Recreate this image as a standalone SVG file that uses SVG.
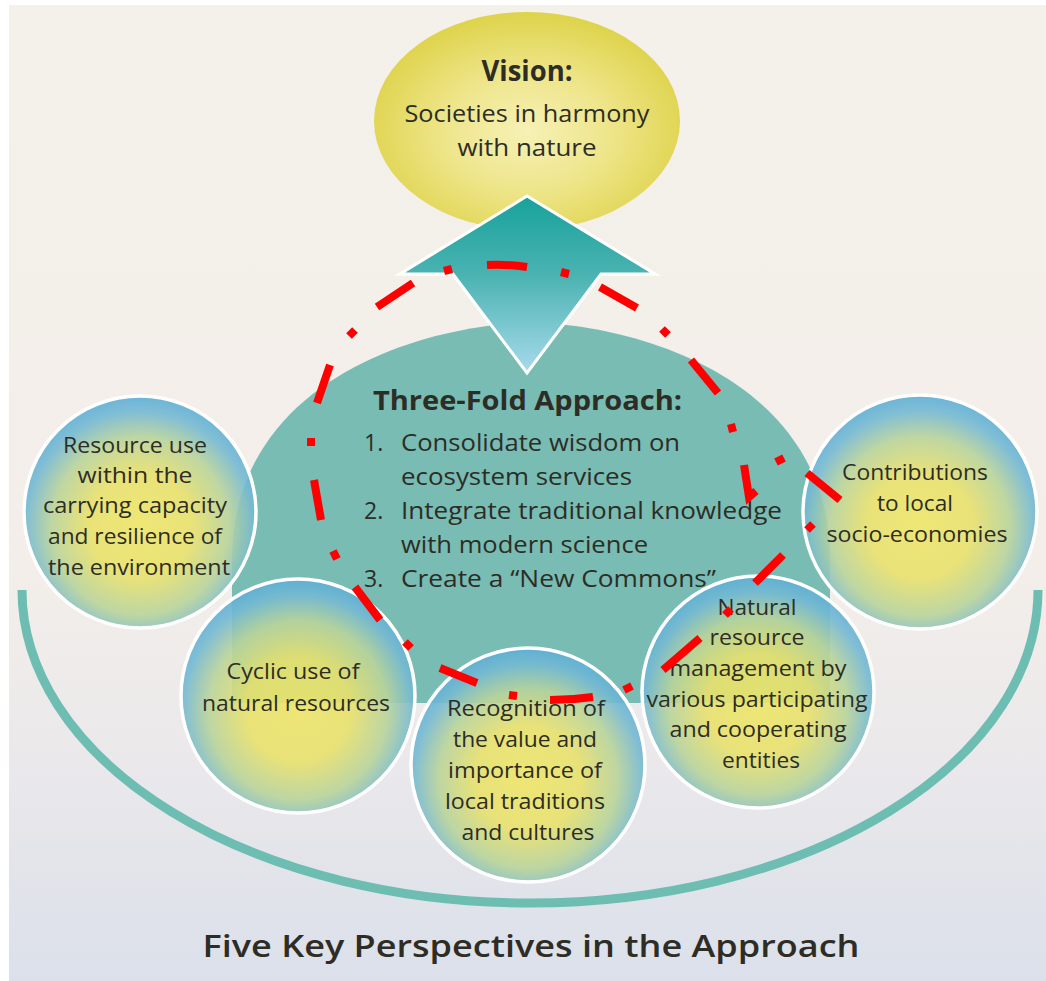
<svg xmlns="http://www.w3.org/2000/svg" width="1046" height="981" viewBox="0 0 1046 981">
<defs>
  <linearGradient id="bgGrad" x1="0" y1="0" x2="0" y2="1">
    <stop offset="0" stop-color="#f4f0ea"/>
    <stop offset="0.58" stop-color="#f3eee9"/>
    <stop offset="0.78" stop-color="#eae8eb"/>
    <stop offset="1" stop-color="#dbe0ea"/>
  </linearGradient>
  <radialGradient id="visionGrad" cx="50%" cy="55%" r="55%">
    <stop offset="0" stop-color="#f6f1b6"/>
    <stop offset="0.5" stop-color="#eee58a"/>
    <stop offset="1" stop-color="#ded34a"/>
  </radialGradient>
  <linearGradient id="arrowGrad" x1="0" y1="0" x2="0" y2="1">
    <stop offset="0" stop-color="#17a29b"/>
    <stop offset="0.45" stop-color="#4bb3b2"/>
    <stop offset="1" stop-color="#a8daeb"/>
  </linearGradient>
  <radialGradient id="circleGrad" cx="50%" cy="56%" r="56%">
    <stop offset="0" stop-color="#eee668"/>
    <stop offset="0.4" stop-color="#e8e16c"/>
    <stop offset="0.68" stop-color="#b9d49a"/>
    <stop offset="0.88" stop-color="#74b9d3"/>
    <stop offset="1" stop-color="#5caed6"/>
  </radialGradient>
  <style>
    .txt { font-family: "Open Sans", "Liberation Sans", sans-serif; fill: #2d2d25; }
    .mid { text-anchor: middle; }
    .ctext { font-size: 21px; text-anchor: middle; }
    .body { font-size: 23px; }
    .circle { fill: url(#circleGrad); fill-opacity: 0.9; stroke: #ffffff; stroke-width: 3.5; }
    .red { fill: none; stroke: #ff0000; stroke-width: 8; stroke-linecap: butt; stroke-linejoin: miter; }
  </style>
</defs>

<rect x="0" y="0" width="1046" height="981" fill="#ffffff"/>
<rect x="9" y="5" width="1037" height="976" fill="url(#bgGrad)"/>

<g id="connectors">
  <path id="base-arc" d="M22,590 A508,313 0 0 0 1038,590" fill="none" stroke="#6dbdb2" stroke-width="9"/>
  <path id="up-arrow" d="M527,196 L655,274 L601,274 L527,373 L453,274 L400,274 Z" fill="url(#arrowGrad)" stroke="#ffffff" stroke-width="3" stroke-linejoin="miter"/>
</g>

<g id="three-fold">
  <path d="M232,703 L232,560 C232,372 440,323 531,323 C622,323 830,372 830,560 L830,703 Z" fill="#78bcb4"/>
  <text class="txt mid" x="527.5" y="410" font-size="26" font-weight="bold" textLength="309" lengthAdjust="spacingAndGlyphs">Three-Fold Approach:</text>
  <text class="txt body" x="364" y="451" font-size="21">1.</text>
  <text class="txt body" x="401" y="451" textLength="279" lengthAdjust="spacingAndGlyphs">Consolidate wisdom on</text>
  <text class="txt body" x="401" y="485" textLength="231" lengthAdjust="spacingAndGlyphs">ecosystem services</text>
  <text class="txt body" x="364" y="519" font-size="21">2.</text>
  <text class="txt body" x="401" y="519" textLength="381" lengthAdjust="spacingAndGlyphs">Integrate traditional knowledge</text>
  <text class="txt body" x="401" y="553" textLength="247" lengthAdjust="spacingAndGlyphs">with modern science</text>
  <text class="txt body" x="364" y="587" font-size="21">3.</text>
  <text class="txt body" x="401" y="587" textLength="315" lengthAdjust="spacingAndGlyphs">Create a “New Commons”</text>
</g>

<g id="vision">
  <ellipse cx="527" cy="121" rx="153" ry="109" fill="url(#visionGrad)"/>
  <text class="txt mid" x="527" y="81" font-size="28" font-weight="bold" textLength="91" lengthAdjust="spacingAndGlyphs">Vision:</text>
  <text class="txt mid" x="527" y="122" font-size="24" textLength="245" lengthAdjust="spacingAndGlyphs">Societies in harmony</text>
  <text class="txt mid" x="527" y="156" font-size="24" textLength="139" lengthAdjust="spacingAndGlyphs">with nature</text>
</g>

<use href="#up-arrow"/>

<g id="resource-use">
  <circle class="circle" cx="140" cy="512" r="116"/>
  <text class="txt ctext" x="135" y="453" textLength="144" lengthAdjust="spacingAndGlyphs">Resource use</text>
  <text class="txt ctext" x="135" y="483" textLength="115" lengthAdjust="spacingAndGlyphs">within the</text>
  <text class="txt ctext" x="135" y="513" textLength="184" lengthAdjust="spacingAndGlyphs">carrying capacity</text>
  <text class="txt ctext" x="135" y="544" textLength="174" lengthAdjust="spacingAndGlyphs">and resilience of</text>
  <text class="txt ctext" x="139" y="575" textLength="182" lengthAdjust="spacingAndGlyphs">the environment</text>
</g>

<g id="contributions">
  <circle class="circle" cx="920" cy="512" r="117"/>
  <text class="txt ctext" x="915" y="480" textLength="146" lengthAdjust="spacingAndGlyphs">Contributions</text>
  <text class="txt ctext" x="915" y="511" textLength="76" lengthAdjust="spacingAndGlyphs">to local</text>
  <text class="txt ctext" x="917" y="542" textLength="181" lengthAdjust="spacingAndGlyphs">socio-economies</text>
</g>

<g id="cyclic-use">
  <circle class="circle" cx="298" cy="696" r="117"/>
  <text class="txt ctext" x="293" y="679" textLength="133" lengthAdjust="spacingAndGlyphs">Cyclic use of</text>
  <text class="txt ctext" x="296" y="711" textLength="188" lengthAdjust="spacingAndGlyphs">natural resources</text>
</g>

<g id="natural-resource-management">
  <circle class="circle" cx="758" cy="692" r="116"/>
  <text class="txt ctext" x="757" y="615" textLength="79" lengthAdjust="spacingAndGlyphs">Natural</text>
  <text class="txt ctext" x="757" y="645" textLength="95" lengthAdjust="spacingAndGlyphs">resource</text>
  <text class="txt ctext" x="758" y="676" textLength="177" lengthAdjust="spacingAndGlyphs">management by</text>
  <text class="txt ctext" x="757" y="707" textLength="221" lengthAdjust="spacingAndGlyphs">various participating</text>
  <text class="txt ctext" x="758" y="737" textLength="177" lengthAdjust="spacingAndGlyphs">and cooperating</text>
  <text class="txt ctext" x="761" y="768" textLength="78" lengthAdjust="spacingAndGlyphs">entities</text>
</g>

<g id="recognition">
  <circle class="circle" cx="528" cy="765" r="117"/>
  <text class="txt ctext" x="526" y="716" textLength="158" lengthAdjust="spacingAndGlyphs">Recognition of</text>
  <text class="txt ctext" x="525" y="747" textLength="144" lengthAdjust="spacingAndGlyphs">the value and</text>
  <text class="txt ctext" x="525" y="778" textLength="154" lengthAdjust="spacingAndGlyphs">importance of</text>
  <text class="txt ctext" x="525" y="809" textLength="160" lengthAdjust="spacingAndGlyphs">local traditions</text>
  <text class="txt ctext" x="528" y="840" textLength="133" lengthAdjust="spacingAndGlyphs">and cultures</text>
</g>

<g id="title">
  <text class="txt mid" x="531" y="957" font-size="30" font-weight="600" fill="#2a2a2a" textLength="657" lengthAdjust="spacingAndGlyphs">Five Key Perspectives in the Approach</text>
</g>

<g id="red-annotation">
  <path class="red" d="M377,307 L413,283 M444,271 L452,269 M487,265 Q507,264 527,267 M561,272 L569,274 M600,287 L637,308 M662,329 L668,335 M691,360 L718,393 M731,424 L733,432 M744,465 L749,497 L756,491 M776,462 L784,458 M807,473 L840,500 M813,524 L807,530 M783,555 L755,583 M731,609 L725,615 M700,638 L663,670 M632,686 L624,690 M593,697 Q572,700 550,700 M517,696 L509,695 M477,683 L440,668 M411,648 L405,642 M380,620 L355,587 M337,559 L333,551 M321,520 L314,480 M311,446 L311,438 M317,403 L330,365 M349,336 L355,330"/>
</g>
</svg>
